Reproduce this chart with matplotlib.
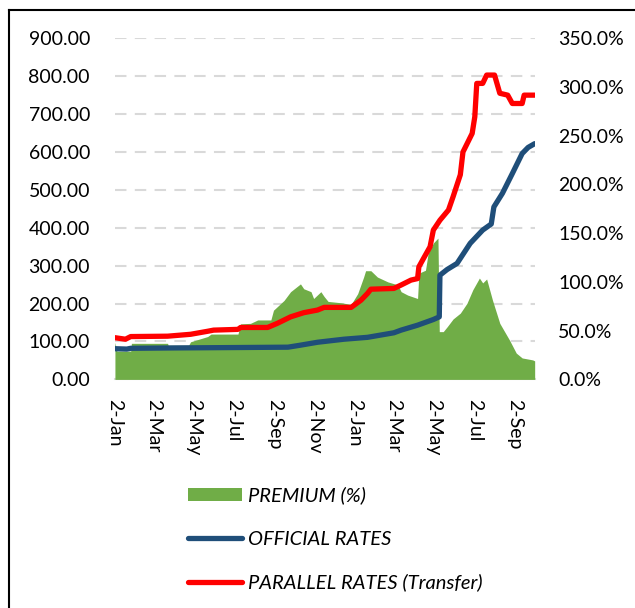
import matplotlib
matplotlib.use("Agg")
import matplotlib.pyplot as plt
from matplotlib.lines import Line2D
from matplotlib.patches import Patch
import pandas as pd

GREEN, BLUE, RED = "#70AD47", "#1F4E79", "#FF0000"
plt.rcParams["font.family"] = ["Lato", "DejaVu Sans"]

# --- data ---
official_dates = ["2022-01-02", "2022-01-20", "2022-01-26", "2022-04-01", "2022-07-01",
                  "2022-09-22", "2022-10-10", "2022-11-06", "2022-12-16", "2023-01-21",
                  "2023-03-02", "2023-03-13", "2023-04-07", "2023-05-01", "2023-05-10",
                  "2023-05-11", "2023-05-22", "2023-06-06", "2023-06-26", "2023-07-15",
                  "2023-07-28", "2023-08-01", "2023-08-14", "2023-08-29", "2023-09-13",
                  "2023-09-22", "2023-10-02"]
official = [81, 80, 82, 83, 84, 85, 90, 98, 106, 111, 123, 130, 143, 158, 165,
            275, 290, 306, 359, 394, 410, 455, 491, 543, 596, 612, 622]

parallel_dates = ["2022-01-02", "2022-01-18", "2022-01-26", "2022-03-23", "2022-04-27",
                  "2022-05-23", "2022-06-01", "2022-07-08", "2022-07-12", "2022-08-22",
                  "2022-09-06", "2022-09-26", "2022-10-16", "2022-11-06", "2022-11-16",
                  "2022-12-27", "2023-01-11", "2023-01-21", "2023-01-26", "2023-03-02",
                  "2023-03-13", "2023-03-28", "2023-04-07", "2023-04-09", "2023-04-16",
                  "2023-04-26", "2023-05-01", "2023-05-11", "2023-05-24", "2023-05-31",
                  "2023-06-11", "2023-06-15", "2023-06-29", "2023-07-03", "2023-07-06",
                  "2023-07-15", "2023-07-21", "2023-08-02", "2023-08-10", "2023-08-22",
                  "2023-08-29", "2023-09-13", "2023-09-16", "2023-10-02"]
parallel = [110, 106, 113, 114, 119, 127, 130, 132, 137, 137, 148, 165, 176, 183, 190,
            190, 209, 227, 238, 240, 249, 262, 266, 297, 319, 350, 394, 420, 447, 482,
            540, 600, 649, 693, 781, 781, 803, 803, 755, 750, 728, 728, 750, 750]

premium_dates = ["2022-01-02", "2022-01-05", "2022-01-26", "2022-01-27", "2022-03-23",
                 "2022-03-24", "2022-04-24", "2022-04-27", "2022-05-23", "2022-05-28",
                 "2022-07-08", "2022-07-12", "2022-07-27", "2022-08-07", "2022-08-27",
                 "2022-08-31", "2022-09-16", "2022-09-26", "2022-10-11", "2022-10-16",
                 "2022-10-27", "2022-10-31", "2022-11-11", "2022-11-16", "2022-11-22",
                 "2022-12-12", "2022-12-27", "2023-01-06", "2023-01-15", "2023-01-18",
                 "2023-01-26", "2023-02-05", "2023-02-21", "2023-03-08", "2023-03-13",
                 "2023-03-23", "2023-04-07", "2023-04-09", "2023-04-19", "2023-04-23",
                 "2023-05-01", "2023-05-08", "2023-05-10", "2023-05-16", "2023-05-22",
                 "2023-05-31", "2023-06-11", "2023-06-21", "2023-06-30", "2023-07-10",
                 "2023-07-15", "2023-07-21", "2023-07-30", "2023-08-10", "2023-08-25",
                 "2023-09-04", "2023-09-13", "2023-09-29", "2023-10-02"]
premium = [38, 29, 29, 37, 37, 35, 35, 38.6, 44, 46.5, 46.5, 57, 57.5, 61, 61,
           71, 81, 90, 98, 93, 90, 83, 90, 85, 80, 78.6, 77, 88, 105, 111.5,
           111.5, 105, 100, 97, 90, 86.5, 83, 109, 112, 129, 140, 145, 49, 49, 54,
           62, 68, 78, 92, 104, 99, 103, 81, 57.5, 40, 27, 22, 20, 19]

tick_dates = ["2022-01-02", "2022-03-02", "2022-05-02", "2022-07-02", "2022-09-02",
              "2022-11-02", "2023-01-02", "2023-03-02", "2023-05-02", "2023-07-02",
              "2023-09-02"]
left_ticks = [0, 100, 200, 300, 400, 500, 600, 700, 800, 900]
right_ticks = [0, 50, 100, 150, 200, 250, 300, 350]

od = pd.to_datetime(official_dates)
pdt = pd.to_datetime(parallel_dates)
prd = pd.to_datetime(premium_dates)
td = pd.to_datetime(tick_dates)

fig = plt.figure(figsize=(6.35, 6.08), dpi=100)
ax = fig.add_axes([0.181, 0.376, 0.661, 0.561])   # grid + left labels
axp = ax.twinx()                                 # premium area, right scale
axl = ax.twinx()                                 # rate lines, left scale

ax.set_ylim(0, 900)
ax.set_yticks(left_ticks)
ax.set_yticklabels([f"{v:.2f}" for v in left_ticks])
ax.yaxis.grid(True, color="#D9D9D9", lw=1.5, linestyle=(0, (5.5, 4)))
ax.set_axisbelow(True)

axp.fill_between(prd, 0, premium, color=GREEN, lw=0)
axp.set_ylim(0, 350)
axp.set_yticks(right_ticks)
axp.set_yticklabels([f"{v:.1f}%" for v in right_ticks])

axl.plot(od, official, color=BLUE, lw=3.8, solid_capstyle="round", solid_joinstyle="round")
axl.plot(pdt, parallel, color=RED, lw=3.8, solid_capstyle="round", solid_joinstyle="round")
axl.set_ylim(0, 900)
axl.set_yticks([])

for a in (ax, axp, axl):
    for s in a.spines.values():
        s.set_visible(False)
    a.tick_params(length=0, labelsize=14)
    a.set_xlim(pd.Timestamp("2022-01-02"), pd.Timestamp("2023-10-02"))
ax.spines["bottom"].set_visible(True)
ax.spines["bottom"].set_color("#D9D9D9")
ax.spines["bottom"].set_linewidth(1.5)
ax.tick_params(axis="y", pad=18)
axp.tick_params(axis="y", pad=17)

ax.set_xticks(td)
ax.set_xticklabels([f"{d.day}-{d:%b}" for d in td], rotation=270, ha="center", va="top")
ax.tick_params(axis="x", pad=14)

handles = [Patch(facecolor=GREEN, edgecolor="none"),
           Line2D([], [], color=BLUE, lw=3.8, solid_capstyle="round"),
           Line2D([], [], color=RED, lw=3.8, solid_capstyle="round")]
labels = ["PREMIUM (%)", "OFFICIAL RATES", "PARALLEL RATES (Transfer)"]
fig.legend(handles, labels, loc="upper left", bbox_to_anchor=(0.296, 0.200),
           frameon=False, prop={"style": "italic", "size": 14.5},
           handlelength=2.7, handleheight=0.6, handletextpad=0.3, labelspacing=1.3,
           borderaxespad=0, borderpad=0)

# frame edges visible in the crop
fig.add_artist(Line2D([9 / 635, 9 / 635], [0, 1 - 10 / 608], color="black", lw=1.5))
fig.add_artist(Line2D([9 / 635, 1], [1 - 10 / 608, 1 - 10 / 608], color="black", lw=1.5))

fig.savefig("out.png", dpi=100)
